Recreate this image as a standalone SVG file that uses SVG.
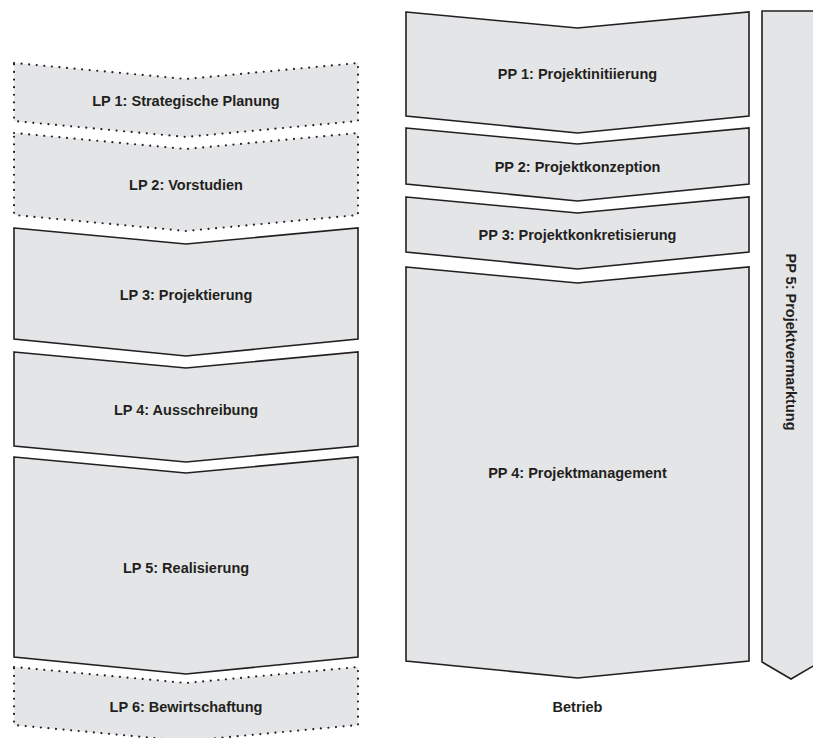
<svg xmlns="http://www.w3.org/2000/svg" width="813" height="738" viewBox="0 0 813 738">
  <style>
    .box { fill: #e4e5e7; stroke: #231f20; stroke-width: 1.6; stroke-linejoin: miter; }
    .dotted { fill: #e4e5e7; stroke: #231f20; stroke-width: 2.2; stroke-dasharray: 0 7.6; stroke-linecap: round; }
    .lbl { font-family: "Liberation Sans", Arial, sans-serif; font-weight: bold; font-size: 14.5px; fill: #231f20; text-anchor: middle; }
  </style>
  <rect width="813" height="738" fill="#ffffff"/>

  <!-- Leistungsphasen (left column) -->
  <g id="lp1">
    <polygon class="dotted" points="14,63 186,79 358,63 358,121 186,137 14,121"/>
    <text class="lbl" x="186" y="106">LP 1: Strategische Planung</text>
  </g>
  <g id="lp2">
    <polygon class="dotted" points="14,133 186,149 358,133 358,215 186,231 14,215"/>
    <text class="lbl" x="186" y="190">LP 2: Vorstudien</text>
  </g>
  <g id="lp3">
    <polygon class="box" points="14,228 186,244 358,228 358,339 186,356 14,339"/>
    <text class="lbl" x="186" y="300">LP 3: Projektierung</text>
  </g>
  <g id="lp4">
    <polygon class="box" points="14,352 186,368 358,352 358,446 186,462 14,446"/>
    <text class="lbl" x="186" y="415">LP 4: Ausschreibung</text>
  </g>
  <g id="lp5">
    <polygon class="box" points="14,457 186,473 358,457 358,657 186,674 14,657"/>
    <text class="lbl" x="186" y="573">LP 5: Realisierung</text>
  </g>
  <g id="lp6">
    <polygon class="dotted" points="14,667 186,683 358,667 358,725 186,741 14,725"/>
    <text class="lbl" x="186" y="712">LP 6: Bewirtschaftung</text>
  </g>

  <!-- Projektphasen (right column) -->
  <g id="pp1">
    <polygon class="box" points="406,12 577.5,28 749,12 749,116 577.5,133 406,116"/>
    <text class="lbl" x="577.5" y="79">PP 1: Projektinitiierung</text>
  </g>
  <g id="pp2">
    <polygon class="box" points="406,128 577.5,144 749,128 749,184 577.5,201 406,184"/>
    <text class="lbl" x="577.5" y="172">PP 2: Projektkonzeption</text>
  </g>
  <g id="pp3">
    <polygon class="box" points="406,197 577.5,213 749,197 749,252 577.5,269 406,252"/>
    <text class="lbl" x="577.5" y="240">PP 3: Projektkonkretisierung</text>
  </g>
  <g id="pp4">
    <polygon class="box" points="406,267 577.5,283 749,267 749,661 577.5,678 406,661"/>
    <text class="lbl" x="577.5" y="478">PP 4: Projektmanagement</text>
  </g>
  <g id="pp5">
    <polygon class="box" points="762,11 820,11 820,662 791,679 762,662"/>
    <text class="lbl" transform="translate(785.5,342) rotate(90)" x="0" y="0">PP 5: Projektvermarktung</text>
  </g>
  <g id="betrieb">
    <text class="lbl" x="577.5" y="712">Betrieb</text>
  </g>

  <g id="connectors"/>
</svg>
